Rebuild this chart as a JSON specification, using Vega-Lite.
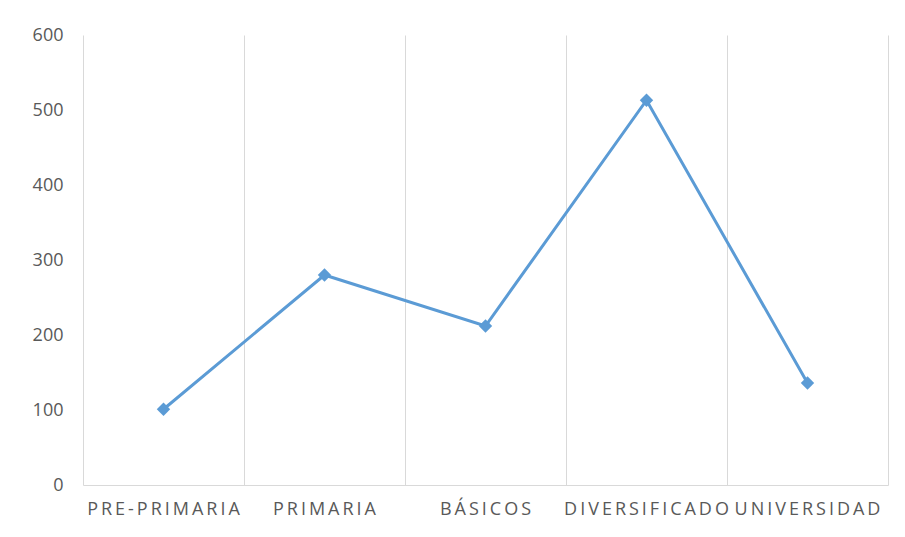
{
  "$schema": "https://vega.github.io/schema/vega-lite/v6.json",
  "width": 805,
  "height": 450,
  "autosize": {"type": "none"},
  "padding": {"left": 83, "top": 35, "right": 17, "bottom": 52},
  "background": "white",
  "config": {
    "view": {"stroke": null},
    "font": "Open Sans",
    "axis": {"labelFont": "Open Sans", "labelColor": "#595959"}
  },
  "data": {
    "values": [
      {"nivel": "PRE-PRIMARIA", "valor": 101},
      {"nivel": "PRIMARIA", "valor": 280},
      {"nivel": "BÁSICOS", "valor": 212},
      {"nivel": "DIVERSIFICADO", "valor": 513},
      {"nivel": "UNIVERSIDAD", "valor": 136}
    ]
  },
  "encoding": {
    "x": {
      "field": "nivel",
      "type": "nominal",
      "sort": null,
      "scale": {"type": "band", "paddingInner": 0, "paddingOuter": 0},
      "axis": {
        "title": null,
        "labelAngle": 0,
        "grid": true,
        "bandPosition": 0,
        "gridColor": "#d9d9d9",
        "ticks": false,
        "domainColor": "#d9d9d9",
        "labelFontSize": 18,
        "labelPadding": 15,
        "labelOverlap": false,
        "labelBound": false,
        "labelExpr": "replace(datum.label, regexp('(.)(?!$)', 'g'), '$1\u2009')"
      }
    },
    "y": {
      "field": "valor",
      "type": "quantitative",
      "scale": {"domain": [0, 600], "nice": false}
    }
  },
  "layer": [
    {
      "mark": {"type": "line", "color": "#5B9BD5", "strokeWidth": 3},
      "encoding": {
        "y": {
          "field": "valor",
          "type": "quantitative",
          "axis": {
            "title": null,
            "values": [0, 100, 200, 300, 400, 500, 600],
            "grid": false,
            "ticks": false,
            "domain": false,
            "labelFontSize": 18,
            "labelPadding": 20
          }
        }
      }
    },
    {
      "mark": {"type": "point", "shape": "diamond", "filled": true, "color": "#5B9BD5", "opacity": 1, "size": 180},
      "encoding": {
        "y": {
          "field": "valor",
          "type": "quantitative",
          "axis": {
            "orient": "right",
            "title": null,
            "labels": false,
            "ticks": false,
            "grid": false,
            "domain": true,
            "domainColor": "#d9d9d9"
          }
        }
      }
    }
  ],
  "resolve": {"axis": {"y": "independent"}}
}
